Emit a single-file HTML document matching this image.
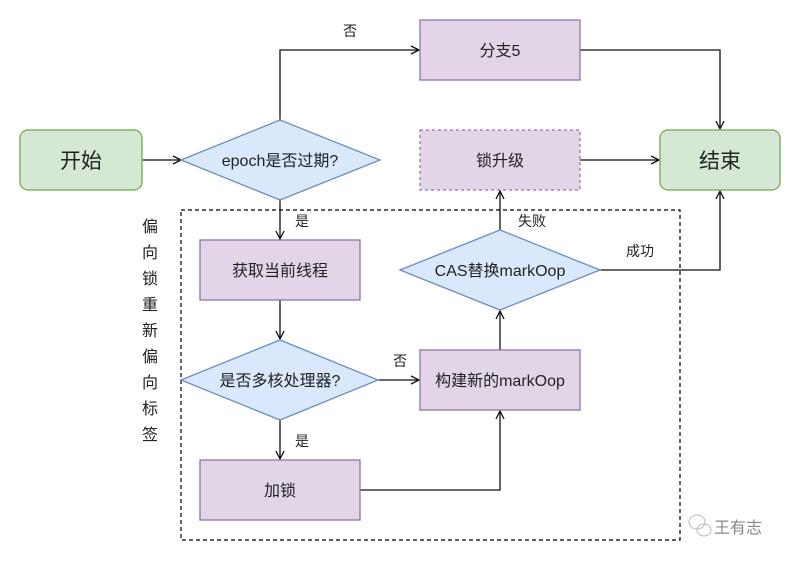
<!DOCTYPE html>
<html><head><meta charset="utf-8"><style>
html,body{margin:0;padding:0;background:#fff;}
svg text{font-family:"Liberation Sans","Noto Sans CJK SC",sans-serif;fill:#222;}
</style></head><body>
<svg width="801" height="561" viewBox="0 0 801 561" xmlns="http://www.w3.org/2000/svg">
<defs><marker id="a" markerWidth="10" markerHeight="10" refX="9" refY="5" orient="auto" markerUnits="userSpaceOnUse"><path d="M1,1 L9,5 L1,9" fill="none" stroke="#111" stroke-width="1.3"/></marker></defs>
<rect x="181" y="210" width="499" height="330" fill="none" stroke="#000" stroke-width="1.2" stroke-dasharray="4,3"/>
<g stroke="#111" stroke-width="1.3" fill="none" marker-end="url(#a)">
<path d="M142,160 L181,160"/>
<path d="M280,120 L280,50 L419,50"/>
<path d="M580,50 L720,50 L720,129"/>
<path d="M580,160 L659,160"/>
<path d="M500,230 L500,191"/>
<path d="M600,270 L720,270 L720,191"/>
<path d="M280,200 L280,239"/>
<path d="M280,300 L280,339"/>
<path d="M378,380 L419,380"/>
<path d="M280,420 L280,459"/>
<path d="M360,490 L500,490 L500,411"/>
<path d="M500,350 L500,311"/>
</g>
<rect x="20" y="130" width="122" height="60" rx="8" fill="#d5e8d4" stroke="#82b366" stroke-width="1.5"/>
<rect x="660" y="130" width="120" height="60" rx="8" fill="#d5e8d4" stroke="#82b366" stroke-width="1.5"/>
<rect x="420" y="20" width="160" height="60" fill="#e1d5e7" stroke="#9673a6" stroke-width="1.3"/>
<rect x="420" y="130" width="160" height="60" fill="#e1d5e7" stroke="#9673a6" stroke-width="1.3" stroke-dasharray="3,3"/>
<rect x="200" y="240" width="160" height="60" fill="#e1d5e7" stroke="#9673a6" stroke-width="1.3"/>
<rect x="420" y="350" width="160" height="60" fill="#e1d5e7" stroke="#9673a6" stroke-width="1.3"/>
<rect x="200" y="460" width="160" height="60" fill="#e1d5e7" stroke="#9673a6" stroke-width="1.3"/>
<polygon points="181,160 280,120 380,160 280,200" fill="#dae8fc" stroke="#6c8ebf" stroke-width="1.3"/>
<polygon points="181,380 280,340 378,380 280,420" fill="#dae8fc" stroke="#6c8ebf" stroke-width="1.3"/>
<polygon points="400,270 500,230 600,270 500,310" fill="#dae8fc" stroke="#6c8ebf" stroke-width="1.3"/>
<g text-anchor="middle" font-size="16">
<text x="81" y="168" font-size="21">开始</text>
<text x="720" y="168" font-size="21">结束</text>
<text x="500" y="56">分支5</text>
<text x="500" y="166">锁升级</text>
<text x="280" y="276">获取当前线程</text>
<text x="500" y="386">构建新的markOop</text>
<text x="280" y="496">加锁</text>
<text x="280" y="166">epoch是否过期?</text>
<text x="280" y="386">是否多核处理器?</text>
<text x="500" y="276">CAS替换markOop</text>
<text x="350" y="36" font-size="14">否</text>
<text x="532" y="226" font-size="14">失败</text>
<text x="640" y="256" font-size="14">成功</text>
<text x="302" y="226" font-size="14">是</text>
<text x="400" y="366" font-size="14">否</text>
<text x="302" y="446" font-size="14">是</text>
<text x="150" y="232" font-size="16">偏</text>
<text x="150" y="258" font-size="16">向</text>
<text x="150" y="284" font-size="16">锁</text>
<text x="150" y="310" font-size="16">重</text>
<text x="150" y="336" font-size="16">新</text>
<text x="150" y="362" font-size="16">偏</text>
<text x="150" y="388" font-size="16">向</text>
<text x="150" y="414" font-size="16">标</text>
<text x="150" y="440" font-size="16">签</text>
</g>
<g stroke="#bbb" fill="none"><ellipse cx="697" cy="522" rx="8" ry="7"/><ellipse cx="704" cy="530" rx="7" ry="6"/></g>
<text x="714" y="533" font-size="16" style="fill:#888">王有志</text>
</svg>
</body></html>
